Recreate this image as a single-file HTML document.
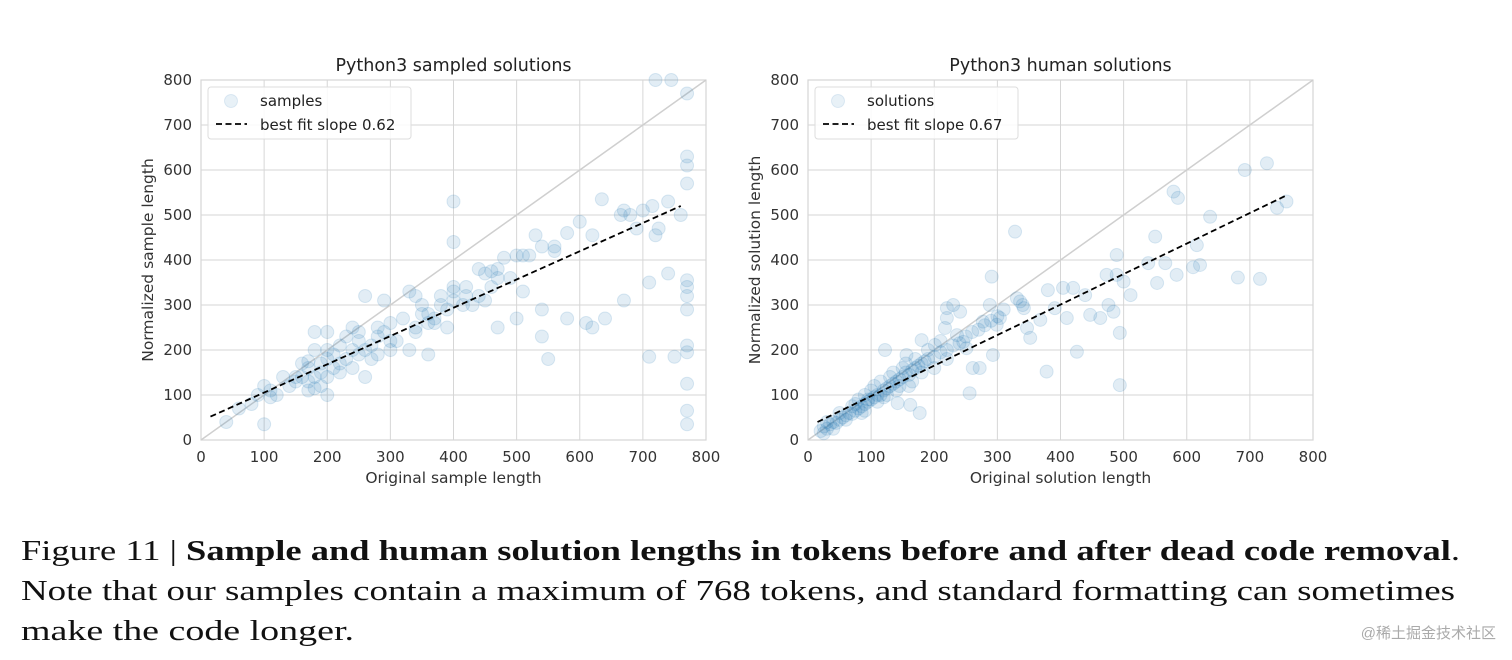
<!DOCTYPE html>
<html><head><meta charset="utf-8"><style>
html,body{margin:0;padding:0;background:#fff;width:1512px;height:660px;overflow:hidden}
svg{position:absolute;left:0;top:0}
.wm{position:absolute;right:16px;top:622px;font-family:"Liberation Sans","Noto Sans CJK SC",sans-serif;font-size:15px;color:#aaa}
</style></head><body>
<svg id="fig" width="1512" height="660">
<g font-family="Liberation Serif, serif" font-size="29" fill="#111">
<text x="21" y="560" textLength="1439" lengthAdjust="spacingAndGlyphs">Figure 11 | <tspan font-weight="bold">Sample and human solution lengths in tokens before and after dead code removal</tspan>.</text>
<text x="21" y="600" textLength="1434" lengthAdjust="spacingAndGlyphs">Note that our samples contain a maximum of 768 tokens, and standard formatting can sometimes</text>
<text x="21" y="640" textLength="333" lengthAdjust="spacingAndGlyphs">make the code longer.</text>
</g>
</svg>
<div class="wm">@稀土掘金技术社区</div>
<script>
const ticks=[0,100,200,300,400,500,600,700,800];
const leftTitle="Python3 sampled solutions";
const rightTitle="Python3 human solutions";
const leftFit=[[15,52],[760,520]];
const rightFit=[[15,40],[760,545]];
const leftX=[40,100,770,720,745,770,770,770,740,760,635,700,715,665,670,680,690,725,720,620,600,580,560,560,530,540,510,520,500,480,470,460,400,400,450,440,470,490,420,420,450,415,470,540,500,540,580,550,610,640,620,670,710,740,770,770,770,770,770,770,770,770,770,750,710,330,290,260,240,200,180,150,130,110,100,90,80,60,200,180,170,340,350,340,300,380,390,360,370,400,400,360,330,310,280,250,230,220,210,200,190,260,270,240,230,220,210,190,180,170,160,150,140,120,110,160,170,200,250,280,290,300,320,350,380,400,440,430,460,510,260,300,340,370,390,250,240,270,280,220,200,190,170,180,360];
const leftY=[40,35,770,800,800,630,610,570,530,500,535,510,520,500,510,500,470,470,455,455,485,460,430,420,455,430,410,410,410,405,380,375,530,440,370,380,360,360,340,320,310,300,250,290,270,230,270,180,260,270,250,310,350,370,355,340,320,290,210,195,125,65,35,185,185,330,310,320,250,240,240,140,140,110,120,100,80,70,100,200,160,320,280,250,220,300,290,260,270,310,330,190,200,220,250,240,230,210,190,180,170,200,210,200,180,170,160,150,140,130,140,130,120,100,95,170,175,200,220,230,240,260,270,300,320,340,320,300,340,330,140,200,240,260,250,190,160,180,190,150,140,120,110,115,280];
const rightX=[727,692,579,586,758,743,637,328,550,616,489,539,566,621,610,681,716,584,553,473,489,500,511,291,476,484,447,463,494,494,426,378,410,380,404,420,439,368,391,347,352,331,336,340,342,288,304,277,299,293,261,272,256,220,230,241,220,217,236,246,251,180,201,122,156,177,142,162,20,25,30,35,40,45,50,55,60,65,70,75,80,85,90,95,100,105,110,115,120,125,130,135,140,145,150,155,160,165,170,175,180,185,190,200,210,220,230,240,250,260,270,280,290,300,310,60,70,90,100,110,120,130,140,150,160,170,180,190,200,210,220,40,50,80,90,30,25,75,85,95,105,115,125,135,145,155,165];
const rightY=[615,600,552,538,530,516,496,463,452,433,411,393,393,389,384,361,358,367,349,367,367,352,322,363,300,285,278,271,238,122,196,152,271,333,338,338,322,267,293,249,227,315,308,300,293,300,271,263,256,189,160,160,104,293,300,285,271,249,233,218,204,222,211,200,189,60,82,78,20,30,25,35,40,38,45,50,55,60,58,65,70,75,80,85,90,95,100,100,110,115,120,125,130,135,140,150,145,155,160,165,170,175,180,185,195,200,210,215,230,240,245,255,265,275,290,45,75,65,110,85,95,140,110,160,120,180,150,200,160,220,180,25,60,90,100,40,15,80,60,90,120,130,100,150,120,170,130];
const ticksLbl=ticks.map(String);
const NS="http://www.w3.org/2000/svg";
const svg=document.getElementById('fig');
function el(t,a,p){const e=document.createElementNS(NS,t);for(const k in a)e.setAttribute(k,a[k]);(p||svg).appendChild(e);return e;}
function chart(x0,title,xs,ys,fit,xlab,ylab,leg,slope,pref){
 const x1=x0+505,yT=80,yB=440;
 const sx=v=>x0+v/800*(x1-x0), sy=v=>yB-v/800*(yB-yT);
 const g=el('g',{});
 
 
 ticks.forEach((t,i)=>{
  const gx=el('line',{x1:sx(t),x2:sx(t),y1:yT,y2:yB,stroke:'#d6d6d6','stroke-width':1},g);
  
  
  const gy=el('line',{x1:x0,x2:x1,y1:sy(t),y2:sy(t),stroke:'#d6d6d6','stroke-width':1},g);
  
  
  const tx=el('text',{x:sx(t),y:yB+22,'text-anchor':'middle','font-size':15,fill:'#333','font-family':'DejaVu Sans, Liberation Sans, sans-serif'},g);
  tx.textContent=ticksLbl[i];
  
  
  const ty=el('text',{x:x0-9,y:sy(t)+5,'text-anchor':'end','font-size':15,fill:'#333','font-family':'DejaVu Sans, Liberation Sans, sans-serif'},g);
  ty.textContent=ticksLbl[i];
  
  
 });
 const fr=el('rect',{x:x0,y:yT,width:x1-x0,height:yB-yT,fill:'none',stroke:'#d6d6d6','stroke-width':1.2},g);
 
 
 const id=el('line',{x1:sx(0),y1:sy(0),x2:sx(800),y2:sy(800),stroke:'#cfcfcf','stroke-width':1.5},g);
 
 
 xs.forEach((v,i)=>{
  const c=el('circle',{cx:sx(v),cy:sy(ys[i]),r:6.5,fill:'rgba(31,119,180,0.13)',stroke:'rgba(31,119,180,0.15)','stroke-width':1},g);
  
  
 });
 const fl=el('line',{x1:sx(fit[0][0]),y1:sy(fit[0][1]),x2:sx(fit[1][0]),y2:sy(fit[1][1]),stroke:'#000','stroke-width':1.8,'stroke-dasharray':'6,3.5'},g);
 
 
 const tt=el('text',{x:(x0+x1)/2,y:71,'text-anchor':'middle','font-size':17.5,fill:'#222','font-family':'DejaVu Sans, Liberation Sans, sans-serif'},g);
 tt.textContent=title;
 
 
 const xl=el('text',{x:(x0+x1)/2,y:483,'text-anchor':'middle','font-size':15.5,fill:'#333','font-family':'DejaVu Sans, Liberation Sans, sans-serif'},g);
 xl.textContent=xlab;
 
 
 const yl=el('text',{x:0,y:0,transform:`translate(${x0-48},${(yT+yB)/2}) rotate(-90)`,'text-anchor':'middle','font-size':15.5,fill:'#333','font-family':'DejaVu Sans, Liberation Sans, sans-serif'},g);
 yl.textContent=ylab;
 
 
 const lg=el('g',{},g);
 
 
 el('rect',{x:x0+7,y:87,width:203,height:52,rx:3,fill:'rgba(255,255,255,0.85)',stroke:'#ddd'},lg);
 el('circle',{cx:x0+30,cy:101,r:6.5,fill:'rgba(31,119,180,0.1)',stroke:'rgba(31,119,180,0.12)'},lg);
 const l1=el('text',{x:x0+59,y:106,'font-size':15,fill:'#222','font-family':'DejaVu Sans, Liberation Sans, sans-serif'},lg);
 l1.textContent=leg;
 
 
 el('line',{x1:x0+15,x2:x0+46,y1:124,y2:124,stroke:'#000','stroke-width':1.8,'stroke-dasharray':'6,3.5'},lg);
 const l2=el('text',{x:x0+59,y:130,'font-size':15,fill:'#222','font-family':'DejaVu Sans, Liberation Sans, sans-serif'},lg);
 l2.textContent='best fit slope '+slope;
 
 
}
chart(201,leftTitle,leftX,leftY,leftFit,'Original sample length','Normalized sample length','samples','0.62','left');
chart(808,rightTitle,rightX,rightY,rightFit,'Original solution length','Normalized solution length','solutions','0.67','right');
</script>
</body></html>
